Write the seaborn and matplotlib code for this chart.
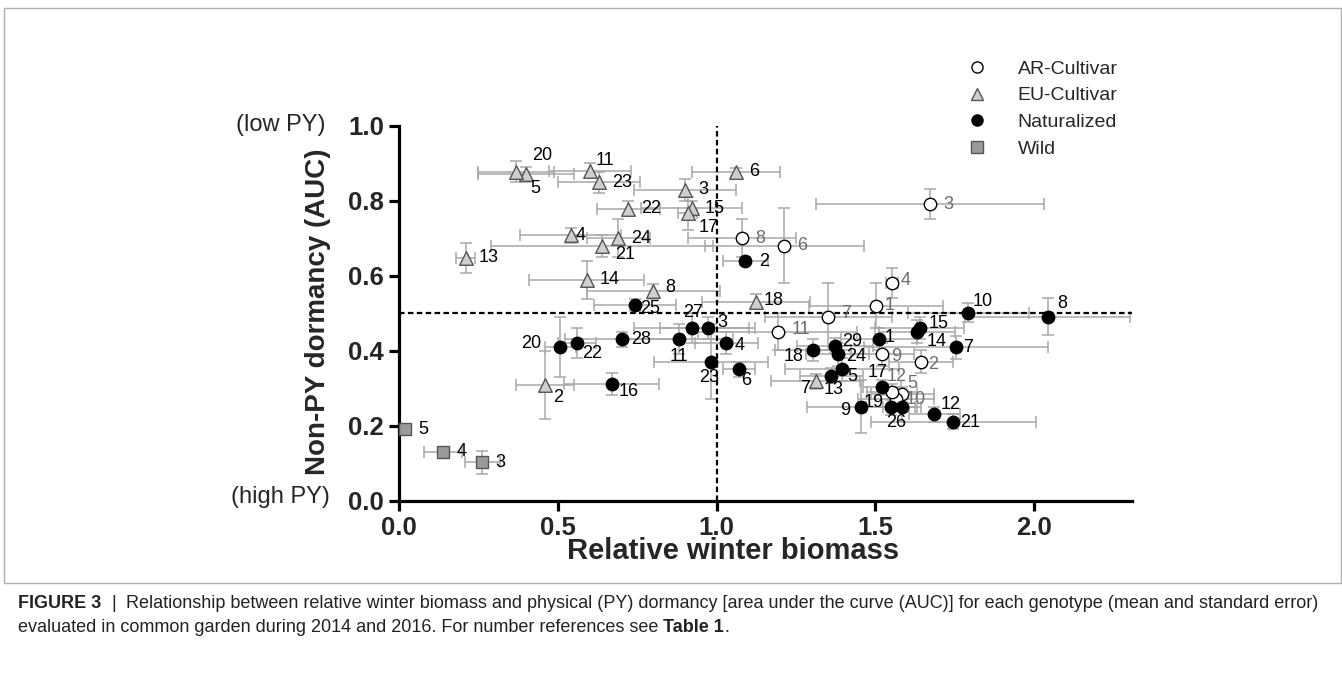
import numpy as np
import pandas as pd
import matplotlib
matplotlib.use("Agg")
import matplotlib.pyplot as plt
import seaborn as sns
from matplotlib.lines import Line2D
from matplotlib.patches import Rectangle

# ---------------- data ----------------
ar_id   = [1, 2, 3, 4, 5, 6, 7, 8, 9, 10, 11, 12]
ar_x    = [1.502, 1.644, 1.672, 1.553, 1.585, 1.213, 1.352, 1.081, 1.522, 1.564, 1.192, 1.553]
ar_y    = [0.520, 0.371, 0.790, 0.580, 0.284, 0.680, 0.491, 0.700, 0.390, 0.270, 0.451, 0.291]
ar_xerr = [0.21, 0.10, 0.36, 0.02, 0.10, 0.25, 0.20, 0.17, 0.10, 0.12, 0.25, 0.08]
ar_yerr = [0.06, 0.03, 0.04, 0.04, 0.02, 0.10, 0.09, 0.05, 0.03, 0.02, 0.05, 0.02]

eu_id   = [2, 3, 4, 5, 6, 7, 8, 11, 13, 14, 15, 17, 18, 20, 21, 22, 23, 24]
eu_x    = [0.459, 0.900, 0.540, 0.399, 1.061, 1.312, 0.800, 0.601, 0.209, 0.590, 0.921, 0.909,
           1.123, 0.368, 0.640, 0.722, 0.630, 0.690]
eu_y    = [0.309, 0.829, 0.708, 0.870, 0.877, 0.319, 0.559, 0.880, 0.648, 0.589, 0.780, 0.766,
           0.531, 0.877, 0.679, 0.778, 0.849, 0.700]
eu_xerr = [0.09, 0.16, 0.16, 0.15, 0.14, 0.14, 0.21, 0.13, 0.03, 0.18, 0.16, 0.03,
           0.17, 0.12, 0.35, 0.10, 0.13, 0.10]
eu_yerr = [0.09, 0.03, 0.02, 0.02, 0.01, 0.02, 0.02, 0.02, 0.04, 0.05, 0.02, 0.045,
           0.02, 0.028, 0.03, 0.02, 0.028, 0.05]

nat_id   = list(range(1, 30))
nat_x    = [1.512, 1.091, 0.972, 1.031, 1.394, 1.071, 1.753, 2.043, 1.454, 1.793,
            0.881, 1.686, 1.362, 1.632, 1.640, 0.669, 1.522, 1.304, 1.551, 0.508,
            1.745, 0.561, 0.982, 1.381, 0.743, 1.583, 0.921, 0.701, 1.373]
nat_y    = [0.431, 0.639, 0.461, 0.420, 0.350, 0.350, 0.409, 0.491, 0.251, 0.501,
            0.430, 0.231, 0.333, 0.451, 0.460, 0.311, 0.302, 0.402, 0.249, 0.411,
            0.211, 0.421, 0.371, 0.390, 0.522, 0.249, 0.461, 0.430, 0.413]
nat_xerr = [0.12, 0.07, 0.15, 0.10, 0.18, 0.05, 0.29, 0.26, 0.17, 0.19,
            0.17, 0.08, 0.10, 0.12, 0.14, 0.15, 0.06, 0.12, 0.08, 0.05,
            0.26, 0.06, 0.18, 0.10, 0.13, 0.06, 0.18, 0.18, 0.12]
nat_yerr = [0.03, 0.01, 0.03, 0.03, 0.03, 0.02, 0.03, 0.05, 0.07, 0.025,
            0.04, 0.02, 0.02, 0.03, 0.03, 0.03, 0.02, 0.03, 0.02, 0.08,
            0.02, 0.04, 0.10, 0.03, 0.015, 0.04, 0.04, 0.02, 0.02]

wild_id   = [3, 4, 5]
wild_x    = [0.262, 0.139, 0.018]
wild_y    = [0.102, 0.131, 0.191]
wild_xerr = [0.055, 0.06, 0.01]
wild_yerr = [0.03, 0.01, 0.01]

groups = ["AR-Cultivar", "EU-Cultivar", "Naturalized", "Wild"]
x_ticks = [0.0, 0.5, 1.0, 1.5, 2.0]
y_ticks = [0.0, 0.2, 0.4, 0.6, 0.8, 1.0]
x_label = "Relative winter biomass"
y_label = "Non-PY dormancy (AUC)"
caption_l1 = ("Relationship between relative winter biomass and physical (PY) dormancy "
              "[area under the curve (AUC)] for each genotype (mean and standard error)")
caption_l2 = "evaluated in common garden during 2014 and 2016. For number references see"

frames = []
for g, i, x, y, xe, ye in [
    (groups[0], ar_id, ar_x, ar_y, ar_xerr, ar_yerr),
    (groups[1], eu_id, eu_x, eu_y, eu_xerr, eu_yerr),
    (groups[2], nat_id, nat_x, nat_y, nat_xerr, nat_yerr),
    (groups[3], wild_id, wild_x, wild_y, wild_xerr, wild_yerr),
]:
    frames.append(pd.DataFrame({"group": g, "id": i, "x": x, "y": y, "xerr": xe, "yerr": ye}))
df = pd.concat(frames, ignore_index=True)

# ---------------- styling ----------------
sns.set_style("ticks")
plt.rcParams["font.family"] = ["Liberation Sans", "DejaVu Sans"]

W, H = 1342, 675
fig = plt.figure(figsize=(W / 100, H / 100), dpi=100)
x0, x1, y0, y1 = 399.3, 1132.3, 500.7, 125.7
ax = fig.add_axes([x0 / W, 1 - y0 / H, (x1 - x0) / W, (y0 - y1) / H])

styles = {
    "AR-Cultivar": dict(marker="o", face="white", edge="black", s=80, lw=1.0),
    "EU-Cultivar": dict(marker="^", face="#cfcfcf", edge="#555555", s=95, lw=1.0),
    "Naturalized": dict(marker="o", face="black", edge="black", s=80, lw=1.0),
    "Wild": dict(marker="s", face="#9a9a9a", edge="#555555", s=70, lw=1.0),
}

# error bars
ax.errorbar(df["x"], df["y"], xerr=df["xerr"], yerr=df["yerr"], fmt="none",
            ecolor="#a8a8a8", elinewidth=1.1, capsize=4, capthick=1.1, zorder=2,
            clip_on=False)

# reference lines
ax.axhline(0.5, color="black", lw=1.6, ls=(0, (2.5, 1.5)), zorder=2.5)
ax.axvline(1.0, color="black", lw=1.6, ls=(0, (2.5, 1.5)), zorder=2.5)

# markers
for g in groups:
    st = styles[g]
    sub = df[df["group"] == g]
    sns.scatterplot(data=sub, x="x", y="y", marker=st["marker"], s=st["s"],
                    color=st["face"], edgecolor=st["edge"], linewidth=st["lw"],
                    ax=ax, zorder=3, legend=False, clip_on=False)

# labels: (dx, dy) in pixels (dy positive = down), ha
offsets = {
    "EU-Cultivar": {20: (16, -16, "left"), 5: (4, 14, "left"), 11: (6, -10, "left"),
                    17: (11, 14, "left"), 4: (5, 0, "left"), 21: (13, 8, "left"),
                    8: (12, -4, "left"), 18: (8, -1, "left"), 2: (8, 13, "left"),
                    7: (-6, 7, "right")},
    "AR-Cultivar": {4: (9, -3, "left"), 1: (9, 0, "left"), 7: (13, -3, "left"),
                    11: (14, -2, "left"), 9: (9, 2, "left"), 2: (7, 3, "left"),
                    12: (-5, -15, "left"), 5: (5, -11, "left"), 10: (10, 0, "left")},
    "Naturalized": {10: (4, -11, "left"), 8: (10, -13, "left"), 15: (9, -5, "left"),
                    14: (9, 10, "left"), 1: (6, -2, "left"), 7: (8, 0, "left"),
                    29: (7, -4, "left"), 24: (9, 2, "left"), 18: (-9, 7, "right"),
                    5: (6, 7, "left"), 13: (-8, 14, "left"), 17: (-15, -15, "left"),
                    9: (-10, 4, "right"), 19: (-8, -5, "right"), 26: (-5, 15, "center"),
                    12: (6, -10, "left"), 21: (7, 1, "left"), 4: (8, 2, "left"),
                    23: (-2, 16, "center"), 6: (2, 11, "left"), 3: (10, -5, "left"),
                    27: (2, -15, "center"), 11: (0, 17, "center"), 28: (9, 0, "left"),
                    22: (5, 11, "left"), 20: (-19, -3, "right"), 16: (7, 7, "left"),
                    25: (5, 4, "left"), 2: (14, 0, "left")},
    "Wild": {},
}
for _, r in df.iterrows():
    dx, dy, ha = offsets[r["group"]].get(r["id"], (13, 0, "left"))
    col = "#6e6e6e" if r["group"] == "AR-Cultivar" else "black"
    ax.annotate(str(r["id"]), (r["x"], r["y"]), xytext=(dx, -dy),
                textcoords="offset pixels", ha=ha, va="center",
                fontsize=13, color=col, zorder=4, annotation_clip=False)

# axes formatting
ax.set_xlim(0, 2.31)
ax.set_ylim(0, 1.0)
ax.set_xticks(x_ticks)
ax.set_yticks(y_ticks)
ax.set_xticklabels([f"{v:.1f}" for v in x_ticks], fontweight="bold", fontsize=18.5)
ax.set_yticklabels([f"{v:.1f}" for v in y_ticks], fontweight="bold", fontsize=18.5)
for side in ["top", "right"]:
    ax.spines[side].set_visible(False)
for side in ["left", "bottom"]:
    ax.spines[side].set_linewidth(2.3)
    ax.spines[side].set_color("black")
ax.tick_params(axis="both", length=7, width=2.3, color="black", pad=4)
ax.set_xlabel(x_label, fontsize=21, fontweight="bold")
ax.set_ylabel(y_label, fontsize=20, fontweight="bold")
ax.xaxis.set_label_coords((733 - x0) / (x1 - x0), -0.098)
ax.yaxis.set_label_coords((331 - x0) / (x1 - x0), 0.505)
ax.set_facecolor("white")

fig.text(325 / W, 1 - 125 / H, "(low PY)", ha="right", va="center", fontsize=17)
fig.text(330 / W, 1 - 497 / H, "(high PY)", ha="right", va="center", fontsize=17)

# legend
handles = []
for g in groups:
    st = styles[g]
    handles.append(Line2D([], [], ls="none", marker=st["marker"], markersize=8,
                          markerfacecolor=st["face"], markeredgecolor=st["edge"],
                          markeredgewidth=1.0))
ax.legend(handles, groups, loc="upper left", bbox_to_anchor=(967 / W, 1 - 60 / H),
          bbox_transform=fig.transFigure, frameon=False, fontsize=14,
          handlelength=1.0, handletextpad=1.6, labelspacing=0.47,
          borderpad=0, borderaxespad=0)

# frame around the figure panel
fig.patches.append(Rectangle((4 / W, 1 - 583 / H), (W - 5) / W, (583 - 8) / H,
                             transform=fig.transFigure, fill=False,
                             edgecolor="#b0b0b0", lw=1.0))

# caption
renderer = fig.canvas.get_renderer()


def run_width(runs, size):
    total = 0
    for s, w in runs:
        t = fig.text(0, 0, s, fontsize=size, fontweight=w)
        total += t.get_window_extent(renderer).width
        t.remove()
    return total


gap = lambda size: size * 100 / 72 * 0.28
line1 = [("FIGURE 3", "bold"), ("|", "normal"), (caption_l1, "normal")]
base = 12
wtot = run_width(line1, base) + 4 * gap(base)
csize = base * 1300 / wtot


def draw_runs(xpx, ypx, runs, size, gaps):
    x = xpx
    for (s, w), gp in zip(runs, gaps):
        t = fig.text(x / W, 1 - ypx / H, s, fontsize=size, fontweight=w,
                     ha="left", va="center", color="#222222")
        x += t.get_window_extent(renderer).width + gp


g = gap(csize)
draw_runs(18, 603, line1, csize, [2 * g, 2 * g, 0])
draw_runs(18, 628, [(caption_l2, "normal"), ("Table 1", "bold"), (".", "normal")],
          csize, [g, 0, 0])

fig.savefig("out.png", dpi=100, facecolor="white")
